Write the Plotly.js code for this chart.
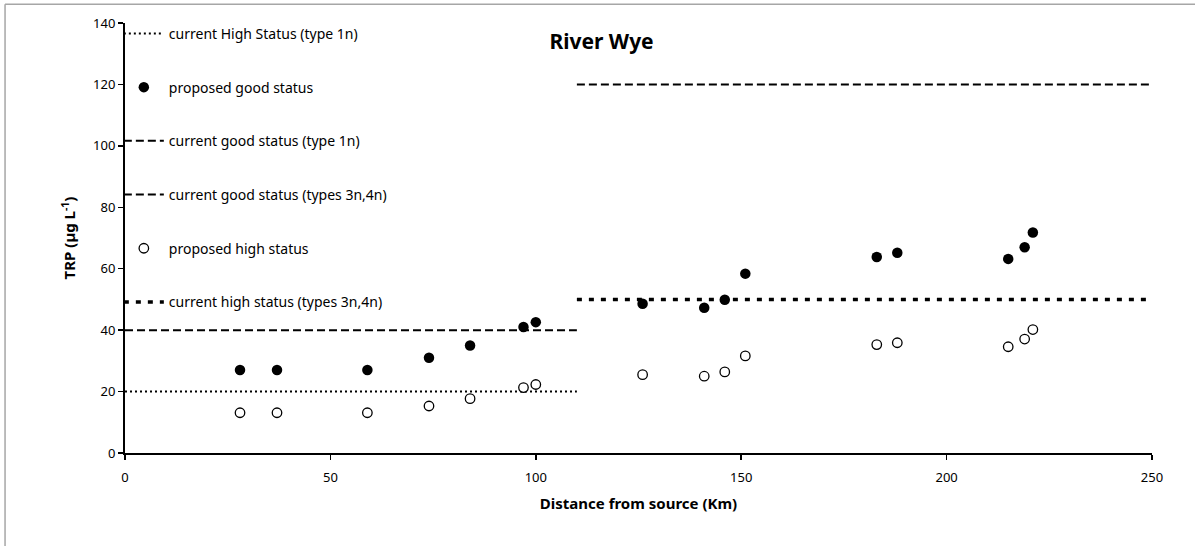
<!DOCTYPE html>
<html>
<head>
<meta charset="utf-8">
<script src="https://cdn.plot.ly/plotly-3.0.1.min.js"></script>
<style>html,body{margin:0;padding:0;background:#fff;}#chart{width:1195px;height:546px;}</style>
</head>
<body>
<div id="chart"></div>
<script>
// Sampling sites: distance from source (km)
const distanceKm = [28, 37, 59, 74, 84, 97, 100, 126, 141, 146, 151, 183, 188, 215, 219, 221];
// Proposed good status TRP (µg/L)
const proposedGood = [27, 27, 27, 31, 35, 41, 42.6, 48.6, 47.3, 49.9, 58.4, 63.8, 65.2, 63.2, 67.0, 71.8];
// Proposed high status TRP (µg/L)
const proposedHigh = [13.1, 13.1, 13.1, 15.3, 17.7, 21.3, 22.3, 25.5, 25.0, 26.4, 31.6, 35.3, 35.9, 34.6, 37.1, 40.2];

// Current standards: type 1n applies upstream, types 3n,4n downstream
const type1nSpan = [0, 110];
const type3n4nSpan = [110, 250];
const currentHigh1n = 20;
const currentGood1n = 40;
const currentGood3n4n = 120;
const currentHigh3n4n = 50;

const legendNames = [
  "current High Status (type 1n)",
  "proposed good status",
  "current good status (type 1n)",
  "current good status (types 3n,4n)",
  "proposed high status",
  "current high status (types 3n,4n)"
];

const LONG_DASH = "8px,4px";

const traces = [
  {x: type1nSpan, y: [currentHigh1n, currentHigh1n], mode: "lines", name: legendNames[0],
   line: {color: "#000", width: 2, dash: "2px,3px"}, legendrank: 1, legendgroup: "g1"},
  {x: type1nSpan, y: [currentGood1n, currentGood1n], mode: "lines", name: legendNames[2],
   line: {color: "#000", width: 2, dash: LONG_DASH}, legendrank: 3, legendgroup: "g3"},
  {x: type3n4nSpan, y: [currentGood3n4n, currentGood3n4n], mode: "lines", name: legendNames[3],
   line: {color: "#000", width: 2, dash: LONG_DASH}, legendrank: 4, legendgroup: "g4"},
  {x: type3n4nSpan, y: [currentHigh3n4n, currentHigh3n4n], mode: "lines", name: legendNames[5],
   line: {color: "#000", width: 3.5, dash: "5px,7px"}, legendrank: 6, legendgroup: "g6"},
  {x: distanceKm, y: proposedGood, mode: "markers", name: legendNames[1],
   marker: {symbol: "circle", size: 10.5, color: "#000", line: {color: "#000", width: 0}},
   legendrank: 2, legendgroup: "g2"},
  {x: distanceKm, y: proposedHigh, mode: "markers", name: legendNames[4],
   marker: {symbol: "circle", size: 9.5, color: "#fff", line: {color: "#000", width: 1.3}},
   legendrank: 5, legendgroup: "g5"}
];

const FONT = "'Noto Sans', 'Open Sans', sans-serif";

const layout = {
  width: 1195, height: 546,
  margin: {l: 125, r: 43, t: 23, b: 93},
  paper_bgcolor: "#fff", plot_bgcolor: "#fff",
  font: {family: FONT, size: 12, color: "#000"},
  showlegend: true,
  legend: {x: -0.006, y: 1.012, xanchor: "left", yanchor: "top",
           bgcolor: "rgba(0,0,0,0)", traceorder: "grouped", tracegroupgap: 32.5,
           maxheight: 520,
           font: {family: FONT, size: 14, color: "#000"}, itemwidth: 40},
  title: {text: "River Wye", x: 0.464, xref: "paper", xanchor: "center",
          y: 0.924, yref: "container", yanchor: "middle",
          font: {family: FONT, size: 21, color: "#000", weight: "bold"}},
  xaxis: {
    range: [0, 250], tickvals: [0, 50, 100, 150, 200, 250],
    showgrid: false, zeroline: false, showline: true, linecolor: "#000", linewidth: 2,
    ticks: "outside", ticklen: 5, tickwidth: 1.5, tickcolor: "#000",
    ticklabelstandoff: 6,
    tickfont: {family: FONT, size: 13, color: "#000"},
    title: {text: "Distance from source (Km)", standoff: 14,
            font: {family: FONT, size: 15, color: "#000", weight: "bold"}}
  },
  yaxis: {
    range: [0, 140], tickvals: [0, 20, 40, 60, 80, 100, 120, 140],
    showgrid: false, zeroline: false, showline: true, linecolor: "#000", linewidth: 2,
    ticks: "outside", ticklen: 5, tickwidth: 1.5, tickcolor: "#000",
    tickfont: {family: FONT, size: 13, color: "#000"},
    title: {text: "TRP (µg L<sup>-1</sup>)", standoff: 14,
            font: {family: FONT, size: 15, color: "#000", weight: "bold"}}
  },
  shapes: [
    {type: "line", xref: "paper", yref: "paper", x0: -0.1168, x1: -0.1168, y0: 1.0435, y1: -0.3,
     line: {color: "#a6a6a6", width: 1.5}},
    {type: "line", xref: "paper", yref: "paper", x0: -0.1168, x1: 1.1, y0: 1.0435, y1: 1.0435,
     line: {color: "#a6a6a6", width: 1.5}}
  ]
};

Plotly.newPlot("chart", traces, layout, {displayModeBar: false, staticPlot: true});
</script>
</body>
</html>
